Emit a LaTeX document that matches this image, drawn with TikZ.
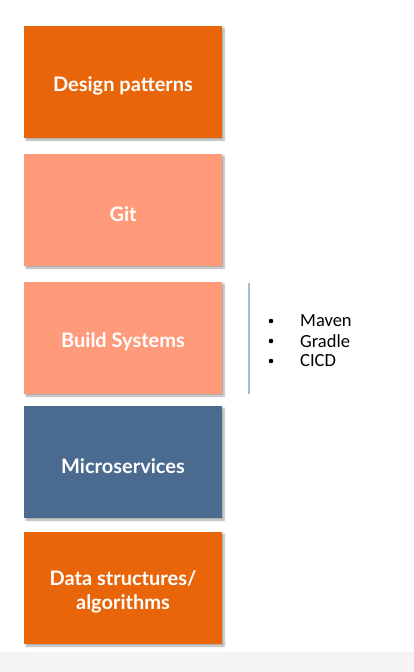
\documentclass[tikz,border=0pt]{standalone}
\usepackage{fontspec}
\setmainfont{Lato}
\newfontfamily\bulletfont{Carlito}
\usetikzlibrary{shadows.blur}
\definecolor{orng}{HTML}{E8650A}
\definecolor{salmon}{HTML}{FF9A7A}
\definecolor{steel}{HTML}{4A6A8F}
\definecolor{divider}{HTML}{A8BCD0}
\begin{document}
\begin{tikzpicture}[x=1pt,y=-1pt,
  card/.style={minimum width=198pt,minimum height=112pt,inner sep=0pt,
    blur shadow={shadow xshift=2pt,shadow yshift=-2pt,shadow blur radius=2pt,shadow opacity=35}},
  lbl/.style={text=white,font=\bfseries\fontsize{20}{24}\selectfont,align=center,inner sep=0pt},
  item/.style={anchor=west,font=\bulletfont\fontsize{18.5}{20}\selectfont,inner sep=0pt},
  dot/.style={circle,fill=black,inner sep=0pt,minimum size=4.6pt}]
\useasboundingbox (0,0) rectangle (414,672);
\fill[black!4] (0,652) rectangle (414,672);
\node[card,fill=orng] (dp) at (123,82) {};
\node[card,fill=salmon] (git) at (123,210) {};
\node[card,fill=salmon] (build) at (123,338) {};
\node[card,fill=steel] (micro) at (123,462) {};
\node[card,fill=orng] (ds) at (123,588) {};
\node[lbl] (dpt) at ([yshift=-4pt]dp.center) {Design patterns};
\node[lbl] (gitt) at ([yshift=-4pt]git.center) {Git};
\node[lbl] (buildt) at ([yshift=-4pt]build.center) {Build Systems};
\node[lbl] (microt) at ([yshift=-4pt]micro.center) {Microservices};
\node[lbl] (dst) at ([yshift=-4pt]ds.center) {Data structures/\\algorithms};
\coordinate (lt) at (249,283);
\coordinate (lb) at (249,394);
\draw[divider,line width=1.2pt] (lt) -- (lb);
\node[dot] (b1) at (271,321) {};
\node[item] (m1) at (300,321) {Maven};
\node[dot] (b2) at (271,341) {};
\node[item] (m2) at (300,341) {Gradle};
\node[dot] (b3) at (271,361) {};
\node[item] (m3) at (300,361) {CICD};
\end{tikzpicture}
\end{document}
